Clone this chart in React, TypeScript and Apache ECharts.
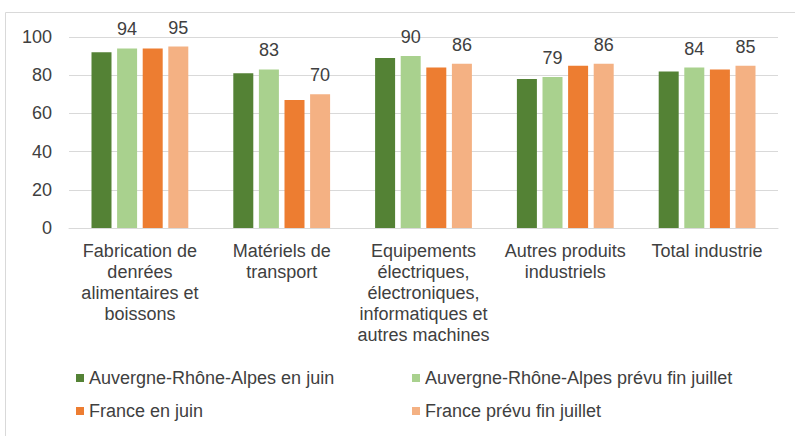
import React, { useEffect, useRef } from "react";
import * as echarts from "echarts";

const categories = [
  "Fabrication de\ndenrées\nalimentaires et\nboissons",
  "Matériels de\ntransport",
  "Equipements\nélectriques,\nélectroniques,\ninformatiques et\nautres machines",
  "Autres produits\nindustriels",
  "Total industrie",
];
const seriesNames = [
  "Auvergne-Rhône-Alpes en juin",
  "Auvergne-Rhône-Alpes prévu fin juillet",
  "France en juin",
  "France prévu fin juillet",
];
const araJuin = [92, 81, 89, 78, 82];
const araJuillet = [94, 83, 90, 79, 84];
const franceJuin = [94, 67, 84, 85, 83];
const franceJuillet = [95, 70, 86, 86, 85];
const yTicks = { min: 0, max: 100, interval: 20 };

const colors = ["#548235", "#A9D18E", "#ED7D31", "#F4B183"];
const FONT = "Liberation Sans, Arial, sans-serif";
const TXT = "#404040";

export default function App() {
  const ref = useRef<HTMLDivElement>(null);
  useEffect(() => {
    if (!ref.current) return;
    const chart = echarts.init(ref.current, undefined, { renderer: "svg" });
    const values = [araJuin, araJuillet, franceJuin, franceJuillet];
    const showLabel = [false, true, false, true];
    const legendCommon = {
      orient: "vertical",
      top: 369,
      padding: 0,
      itemWidth: 8,
      itemHeight: 8,
      itemGap: 15,
      icon: "rect",
      textStyle: { color: TXT, fontSize: 18, fontFamily: FONT },
    };
    chart.setOption({
      animation: false,
      textStyle: { fontFamily: FONT },
      graphic: [
        {
          type: "rect",
          shape: { x: 5.5, y: 12.5, width: 800, height: 440 },
          style: { fill: "none", stroke: "#D9D9D9", lineWidth: 1 },
          silent: true,
        },
      ],
      grid: { left: 69, right: 17, top: 37, bottom: 208, containLabel: false },
      legend: [
        { ...legendCommon, left: 76, data: [seriesNames[0], seriesNames[2]] },
        { ...legendCommon, left: 412, data: [seriesNames[1], seriesNames[3]] },
      ],
      xAxis: {
        type: "category",
        data: categories,
        axisTick: { show: false },
        axisLine: { lineStyle: { color: "#D9D9D9", width: 1 } },
        axisLabel: {
          color: TXT,
          fontSize: 18,
          fontFamily: FONT,
          lineHeight: 21,
          margin: 12,
          interval: 0,
          align: "center",
        },
      },
      yAxis: {
        type: "value",
        min: yTicks.min,
        max: yTicks.max,
        interval: yTicks.interval,
        axisLine: { show: false },
        axisTick: { show: false },
        splitLine: { lineStyle: { color: "#D9D9D9", width: 1 } },
        axisLabel: { color: TXT, fontSize: 18, fontFamily: FONT, margin: 17 },
      },
      series: seriesNames.map((name, i) => ({
        name,
        type: "bar",
        data: values[i],
        barWidth: 20,
        barGap: "28%",
        barCategoryGap: "32%",
        itemStyle: { color: colors[i] },
        label: {
          show: showLabel[i],
          position: "top",
          distance: 10,
          color: TXT,
          fontSize: 18,
          fontFamily: FONT,
        },
      })),
    });
    return () => chart.dispose();
  }, []);
  return (
    <div
      ref={ref}
      style={{ position: "fixed", left: 0, top: 0, width: 795, height: 436, background: "#fff" }}
    />
  );
}
